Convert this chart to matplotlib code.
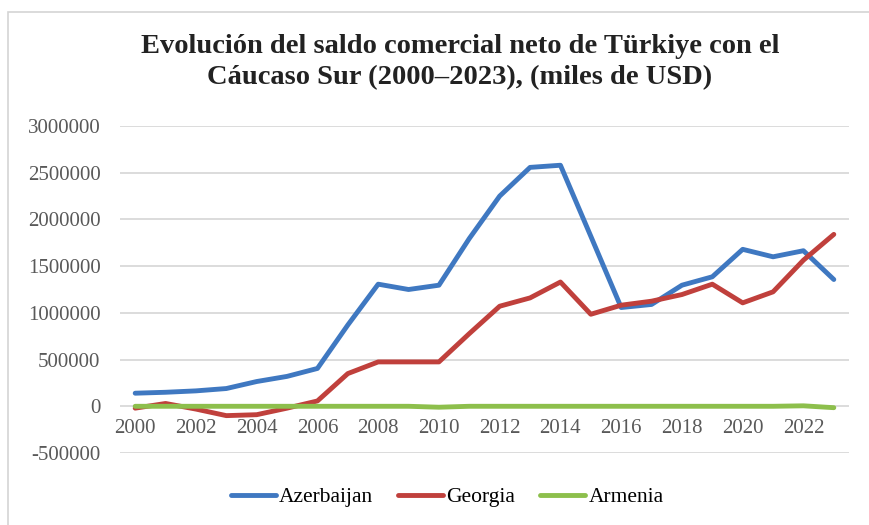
import matplotlib
matplotlib.use("Agg")
import matplotlib.pyplot as plt
from matplotlib.patches import Rectangle

years = list(range(2000, 2024))
azerbaijan = [140000, 150000, 165000, 190000, 265000, 320000, 405000, 870000,
              1307000, 1250000, 1296000, 1796000, 2250000, 2557000, 2580000,
              1820000, 1057000, 1090000, 1296000, 1386000, 1680000, 1600000,
              1665000, 1357000]
georgia = [-20000, 30000, -30000, -100000, -90000, -20000, 57000, 350000,
           475000, 475000, 475000, 778000, 1071000, 1160000, 1330000,
           985000, 1082000, 1125000, 1196000, 1307000, 1107000, 1225000,
           1564000, 1840000]
armenia = [0, 0, 0, 0, 0, 0, 0, 0, 0, 0, -10000, 0, 0, 0, 0,
           0, 0, 0, 0, 0, 0, 0, 5000, -15000]
series_names = ["Azerbaijan", "Georgia", "Armenia"]
yticks = [-500000, 0, 500000, 1000000, 1500000, 2000000, 2500000, 3000000]
xticks = list(range(2000, 2023, 2))
title = "Evolución del saldo comercial neto de Türkiye con el\nCáucaso Sur (2000–2023), (miles de USD)"

W, H = 869, 525
fig = plt.figure(figsize=(W / 100, H / 100), dpi=100)
fig.patch.set_facecolor("white")

# outer frame
fig.patches.append(Rectangle((8 / W, -0.1), 1.2, 1 - 12 / H + 0.1,
                             transform=fig.transFigure, fill=False,
                             edgecolor="#d4d4d4", linewidth=1.2))

ax = fig.add_axes([120 / W, (H - 453) / H, (849 - 120) / W, (453 - 126) / H])
colors = ["#3f78c1", "#c0403c", "#8dbf4c"]
for vals, name, c in zip([azerbaijan, georgia, armenia], series_names, colors):
    ax.plot(years, vals, color=c, linewidth=3.5, label=name,
            solid_capstyle="round", solid_joinstyle="round")

ax.set_xlim(1999.5, 2023.5)
ax.set_ylim(-500000, 3000000)
ax.set_yticks(yticks)
ax.set_yticklabels([str(v) for v in yticks])
ax.set_xticks(xticks)
ax.set_xticklabels([str(v) for v in xticks])
ax.grid(axis="y", color="#d9d9d9", linewidth=1.3)
ax.set_axisbelow(True)
for s in ax.spines.values():
    s.set_visible(False)
ax.spines["bottom"].set_position(("data", 0))
ax.tick_params(axis="both", length=0, labelcolor="#595959")
ax.tick_params(axis="y", pad=14, labelsize=15)
ax.tick_params(axis="x", pad=9, labelsize=15)
for lab in ax.get_xticklabels() + ax.get_yticklabels():
    lab.set_family("Liberation Serif")

fig.text(460 / W, 1 - 62 / H, title, ha="center", va="center",
         fontsize=20.5, fontweight="bold", family="Liberation Serif",
         color="#222222", linespacing=1.3)

fig.legend(loc="center", bbox_to_anchor=(447 / W, 1 - 497 / H), ncol=3,
           frameon=False, prop={"family": "Liberation Serif", "size": 15.5},
           handlelength=2.1, handletextpad=0.15, columnspacing=1.15)

fig.savefig("out.png", dpi=100, facecolor="white")
